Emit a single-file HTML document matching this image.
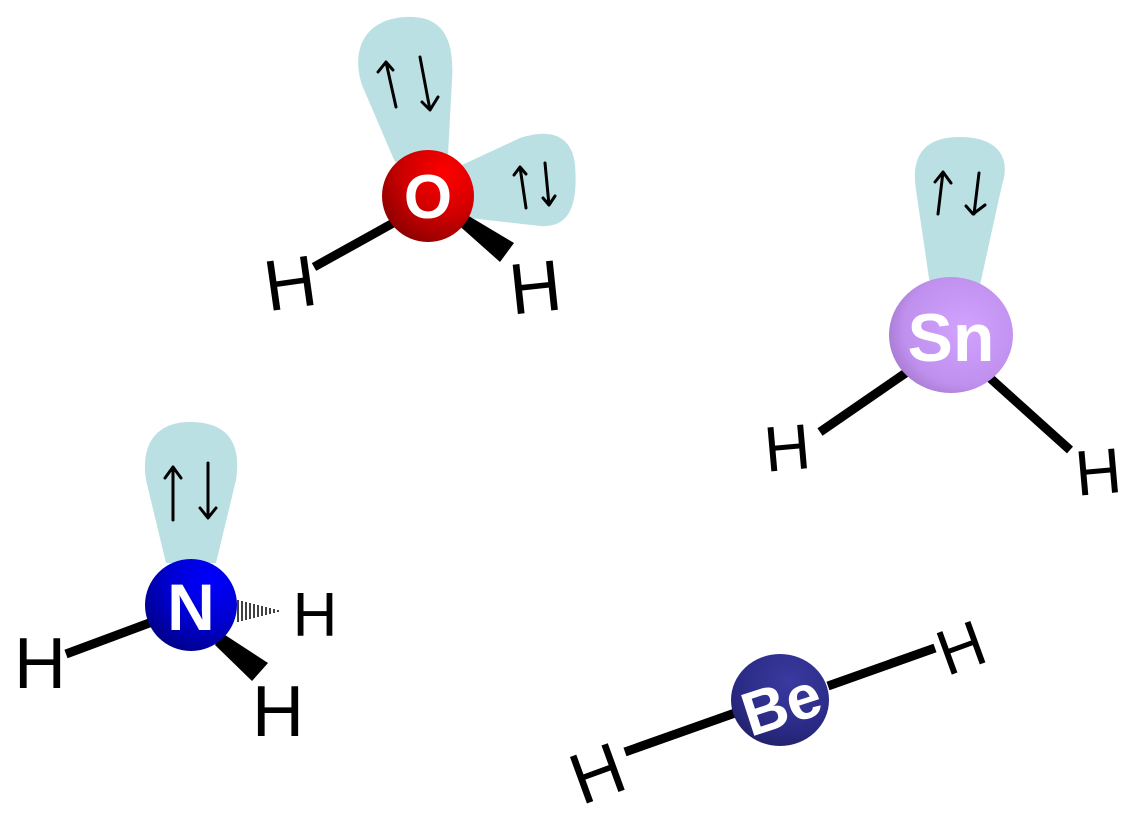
<!DOCTYPE html>
<html><head><meta charset="utf-8"><style>
html,body{margin:0;padding:0;background:#fff;}
svg{display:block;}
text{font-family:"Liberation Sans",sans-serif;}
</style></head><body>
<svg width="1144" height="822" viewBox="0 0 1144 822" xmlns="http://www.w3.org/2000/svg">
<defs>
<radialGradient id="gO" cx="0.7" cy="0.25" r="0.9"><stop offset="0" stop-color="#ff0000"/><stop offset="0.5" stop-color="#d00000"/><stop offset="1" stop-color="#800000"/></radialGradient>
<radialGradient id="gN" cx="0.7" cy="0.25" r="0.9"><stop offset="0" stop-color="#0000ff"/><stop offset="0.5" stop-color="#0000d0"/><stop offset="1" stop-color="#00007a"/></radialGradient>
<radialGradient id="gSn" cx="0.6" cy="0.45" r="0.8"><stop offset="0" stop-color="#d2a2ff"/><stop offset="0.6" stop-color="#c090ee"/><stop offset="1" stop-color="#8a62b0"/></radialGradient>
<radialGradient id="gBe" cx="0.6" cy="0.3" r="0.9"><stop offset="0" stop-color="#3a3aa0"/><stop offset="0.6" stop-color="#2a2a85"/><stop offset="1" stop-color="#1a1a55"/></radialGradient>
</defs>
<g fill="#bbe0e4">
<path d="M395,162 L362,85 C352,55 360,20 405,17 C440,15 455,35 452,80 L448,155 Z"/>
<path d="M462,165 L520,138 C550,128 572,135 575,165 C578,205 570,228 540,226 L470,218 Z"/>
<path d="M166,563 L146,480 C140,440 160,422 190,422 C225,422 242,440 236,480 L216,563 Z"/>
<path d="M930,285 L916,190 C910,150 930,137 960,137 C995,137 1012,155 1002,185 L980,285 Z"/>
</g>
<g stroke="#000" stroke-width="3" fill="none" stroke-linecap="round" stroke-linejoin="round">
<path d="M396,107 L386,62 M378,72 L386,62 L393,70"/>
<path d="M420,57 L430,110 M422,102 L430,110 L438,97"/>
<path d="M526,208 L520,167 M514,175 L520,167 L526,174"/>
<path d="M545,163 L549,205 M543,198 L549,205 L555,196"/>
<path d="M173,520 L173,467 M165,478 L173,467 L181,478"/>
<path d="M208,463 L208,518 M200,508 L208,518 L216,508"/>
<path d="M938,214 L943,172 M935,182 L943,172 L951,183"/>
<path d="M979,173 L974,214 M966,206 L973,214 L985,205"/>
</g>
<g stroke="#000" stroke-width="9" stroke-linecap="butt">
<line x1="314" y1="267" x2="395" y2="222"/>
<line x1="66" y1="654" x2="152" y2="622"/>
<line x1="820" y1="432" x2="910" y2="370"/>
<line x1="990" y1="378" x2="1070" y2="450"/>
<line x1="625" y1="752" x2="735" y2="713"/>
<line x1="828" y1="686" x2="935" y2="648"/>
</g>
<polygon points="455,222 462,212 514,243 500,262" fill="#000"/>
<polygon points="215,645 222,633 268,663 252,681" fill="#000"/>
<g stroke="#000" stroke-width="1.5">
<line x1="238" y1="600" x2="238" y2="622"/><line x1="242" y1="601" x2="242" y2="621"/><line x1="246" y1="602" x2="246" y2="620"/><line x1="250" y1="603" x2="250" y2="619"/><line x1="254" y1="604" x2="254" y2="618"/><line x1="258" y1="605" x2="258" y2="617"/><line x1="262" y1="606" x2="262" y2="616"/><line x1="266" y1="607" x2="266" y2="615"/><line x1="270" y1="608" x2="270" y2="614"/><line x1="274" y1="609" x2="274" y2="613"/><line x1="278" y1="610" x2="278" y2="612"/>
</g>
<circle cx="428" cy="196" r="46" fill="url(#gO)"/>
<circle cx="191" cy="605" r="46" fill="url(#gN)"/>
<ellipse cx="951" cy="335" rx="62" ry="58" fill="url(#gSn)"/>
<ellipse cx="780" cy="700" rx="49" ry="46" fill="url(#gBe)"/>
<g fill="#fff" font-weight="bold" text-anchor="middle">
<text x="428" y="218" font-size="62">O</text>
<text x="191" y="630" font-size="66">N</text>
<text x="951" y="361" font-size="68">Sn</text>
<text x="780" y="726" font-size="62" transform="rotate(-18 780 700)">Be</text>
</g>
<g fill="#000" text-anchor="middle">
<text x="290" y="308" font-size="72" transform="rotate(-8 290 282)">H</text>
<text x="535" y="312" font-size="72" transform="rotate(-6 535 285)">H</text>
<text x="40" y="688" font-size="72">H</text>
<text x="315" y="636" font-size="62">H</text>
<text x="278" y="736" font-size="72">H</text>
<text x="787" y="470" font-size="64" transform="rotate(-5 787 445)">H</text>
<text x="1098" y="494" font-size="64" transform="rotate(-5 1098 470)">H</text>
<text x="598" y="798" font-size="72" transform="rotate(-20 598 775)">H</text>
<text x="960" y="670" font-size="64" transform="rotate(-20 960 645)">H</text>
</g>
</svg>
</body></html>
